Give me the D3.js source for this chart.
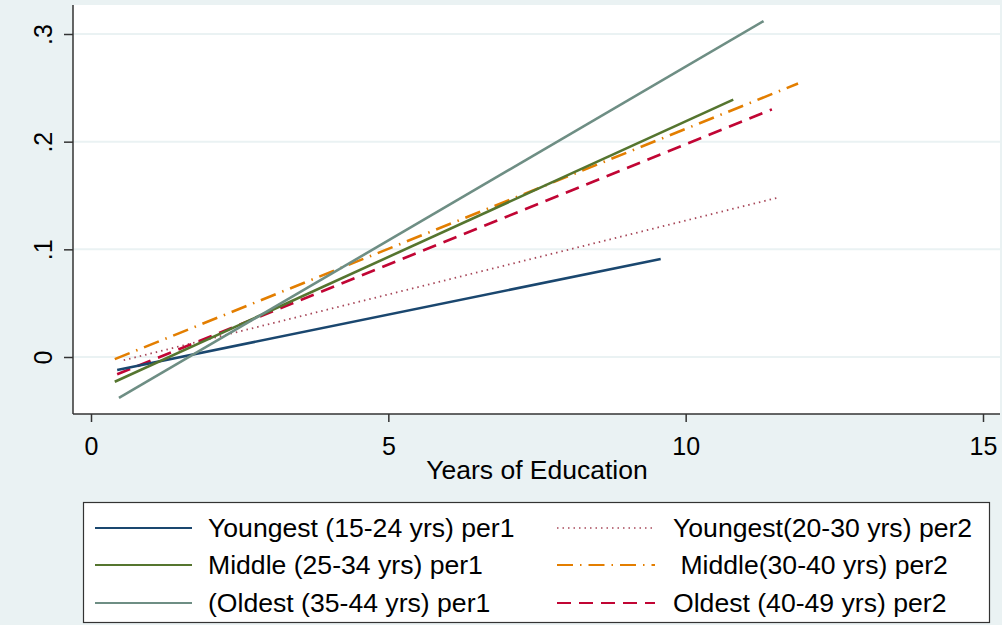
<!DOCTYPE html>
<html><head><meta charset="utf-8">
<script src="https://cdn.jsdelivr.net/npm/d3@7"></script>
<style>body{margin:0;background:#EAF2F3;} svg{display:block;font-family:Arial,"Liberation Sans",sans-serif;}</style>
</head><body>
<script>
// Data (linear fits: start and end points, x = years of education)
const seriesNames = ["Youngest (15-24 yrs) per1","Middle (25-34 yrs) per1","(Oldest (35-44 yrs) per1",
  "Youngest(20-30 yrs) per2"," Middle(30-40 yrs) per2","Oldest (40-49 yrs) per2"];
const youngest1 = [[0.44,-0.012],[9.58,0.091]];
const middle1   = [[0.40,-0.023],[10.80,0.239]];
const oldest1   = [[0.47,-0.038],[11.31,0.312]];
const youngest2 = [[0.55,-0.003],[11.55,0.148]];
const middle2   = [[0.40,-0.002],[11.89,0.254]];
const oldest2   = [[0.44,-0.016],[11.45,0.230]];
const xTicks = [0,5,10,15];
const yTicks = [0,0.1,0.2,0.3];
const yTickLabels = ["0",".1",".2",".3"];
const xTitle = "Years of Education";

const W=1002,H=625;
const FONT="Arial,'Liberation Sans',sans-serif";
const svg=d3.select("body").append("svg").attr("width",W).attr("height",H);
svg.append("rect").attr("width",W).attr("height",H).attr("fill","#EAF2F3");

const plot={l:73,r:1000,t:5,b:414};
const x=d3.scaleLinear().domain([0,15]).range([91,983]);
const y=d3.scaleLinear().domain([0,0.3]).range([357,34]);

svg.append("rect").attr("x",plot.l).attr("y",plot.t).attr("width",plot.r-plot.l).attr("height",plot.b-plot.t).attr("fill","#fff");
// gridlines
svg.append("g").selectAll("line").data(yTicks).join("line")
  .attr("x1",plot.l).attr("x2",plot.r).attr("y1",d=>y(d)).attr("y2",d=>y(d))
  .attr("stroke","#EAF2F3").attr("stroke-width",2);

const styles=[
 {c:"#1a476f",dash:null,w:2.6},
 {c:"#55752f",dash:null,w:2.6},
 {c:"#6e8e84",dash:null,w:2.6},
 {c:"#a8485a",dash:"1.5,4",w:1.8},
 {c:"#e37e00",dash:"16,7,1.5,7",w:2.6},
 {c:"#c10534",dash:"14,8",w:2.6}
];
const data=[youngest1,middle1,oldest1,youngest2,middle2,oldest2];
const line=d3.line().x(d=>x(d[0])).y(d=>y(d[1]));
[3,4,5,0,1,2].forEach(i=>{
  svg.append("path").attr("d",line(data[i])).attr("fill","none")
   .attr("stroke",styles[i].c).attr("stroke-width",styles[i].w)
   .attr("stroke-dasharray",styles[i].dash);
});

// axes
const ya=d3.axisLeft(y).tickValues(yTicks).tickFormat((d,i)=>yTickLabels[i]).tickSize(9).tickSizeOuter(0);
const gy=svg.append("g").attr("transform",`translate(${plot.l},0)`).call(ya);
gy.select(".domain").attr("d",`M0,${plot.t}V${plot.b}`);
gy.selectAll(".tick").each(function(d,i){
  const g=d3.select(this); g.select("text").remove();
  g.append("text").attr("transform","translate(-21,0) rotate(-90)").attr("text-anchor","middle")
   .attr("fill","#000").attr("font-size",25).attr("font-family",FONT).text(yTickLabels[i]);
});
const xa=d3.axisBottom(x).tickValues(xTicks).tickSize(8).tickSizeOuter(0).tickFormat(d3.format("d"));
const gx=svg.append("g").attr("transform",`translate(0,${plot.b})`).call(xa);
gx.select(".domain").attr("d",`M${plot.l},0H${plot.r}`);
gx.selectAll(".tick text").attr("font-size",25).attr("fill","#000").attr("dy",null).attr("y",41).attr("font-family",FONT);
svg.selectAll(".domain,.tick line").attr("stroke","#333").attr("stroke-width",1.5);

svg.append("text").attr("x",537).attr("y",479).attr("text-anchor","middle").attr("font-size",26.5).attr("font-family",FONT).text(xTitle);

// legend
svg.append("rect").attr("x",83.5).attr("y",502.5).attr("width",906).attr("height",120)
  .attr("fill","#fff").attr("stroke","#333").attr("stroke-width",1.2);
const rowsY=[528,565,603];
seriesNames.forEach((name,i)=>{
  const col=Math.floor(i/3), row=i%3;
  const lx0=col===0?95:557, lx1=col===0?192:655, tx=col===0?208:673;
  svg.append("line").attr("x1",lx0).attr("x2",lx1).attr("y1",rowsY[row]).attr("y2",rowsY[row])
    .attr("stroke",styles[i].c).attr("stroke-width",i===3?1.6:2.2).attr("stroke-dasharray",styles[i].dash);
  svg.append("text").attr("x",tx).attr("y",rowsY[row]+9).attr("font-size",26.6).attr("font-family",FONT)
    .style("white-space","pre").text(name);
});
</script>
</body></html>
